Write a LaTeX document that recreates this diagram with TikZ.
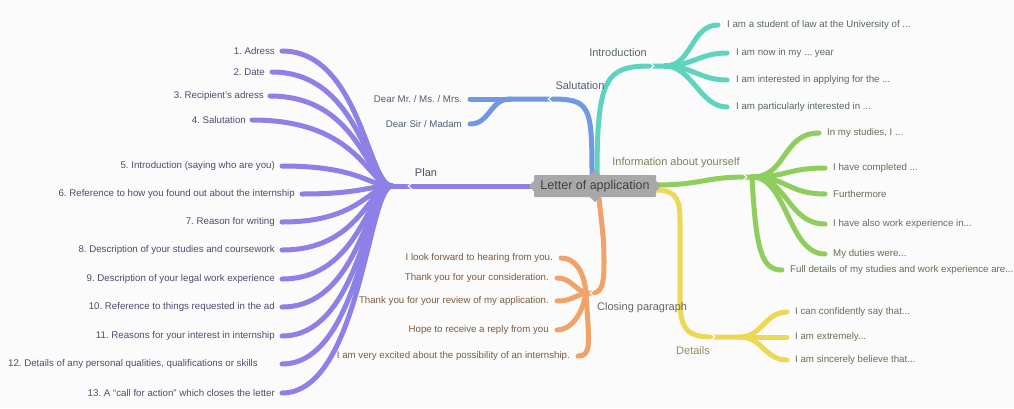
\documentclass[tikz,border=0pt]{standalone}
\usepackage{fontspec}
\setmainfont{Liberation Sans}
\usetikzlibrary{backgrounds}
\frenchspacing

\definecolor{bgc}{RGB}{251,251,251}
\definecolor{boxc}{RGB}{168,168,168}
\definecolor{planc}{RGB}{141,128,230}
\definecolor{salc}{RGB}{112,152,228}
\definecolor{intc}{RGB}{94,212,190}
\definecolor{infc}{RGB}{143,206,92}
\definecolor{detc}{RGB}{236,216,84}
\definecolor{cloc}{RGB}{240,162,104}
\definecolor{plantxt}{RGB}{78,76,112}
\definecolor{saltxt}{RGB}{82,92,116}
\definecolor{inttxt}{RGB}{88,104,100}
\definecolor{inftxt}{RGB}{98,112,86}
\definecolor{dettxt}{RGB}{112,108,82}
\definecolor{clotxt}{RGB}{124,92,62}

\tikzset{
  branch/.style={line width=5pt, line cap=round},
  leaf/.style={inner sep=0pt, font=\fontsize{9.7}{11}\selectfont},
  topic/.style={inner sep=0pt, font=\fontsize{11}{13}\selectfont},
  chev/.style={draw=white, line width=1pt, line cap=round, line join=round},
}

\begin{document}
\begin{tikzpicture}[x=1pt, y=-1pt]
	\useasboundingbox (0,0) rectangle (1014,408);
	% centre
	\node[fill=boxc, text=black!75, inner sep=0pt, minimum width=122pt, minimum height=22pt, rounded corners=1pt,
		font=\fontsize{12.5}{15}\selectfont] (lett) at (595,186) {Letter of application};
	\fill[boxc] ([yshift=5]lett.west) -- ++(-5,5) -- ++(5,5) -- cycle;
	\fill[boxc] ([yshift=5]lett.east) -- ++(5,5) -- ++(-5,5) -- cycle;
	\fill[boxc] ([xshift=-5]lett.north) -- ++(5,-5) -- ++(5,5) -- cycle;
	\fill[boxc] ([xshift=-5]lett.south) -- ++(5,5) -- ++(5,-5) -- cycle;

	% topics
	\coordinate (planpt) at (410,186); \coordinate (planhub) at (392,186);
	\coordinate (salpt) at (550,99); \coordinate (salhub) at (510,99);
	\coordinate (intpt) at (652,66); \coordinate (inthub) at (665,66);
	\coordinate (infpt) at (745,177); \coordinate (infhub) at (752,177);
	\coordinate (detpt) at (713,337); \coordinate (dethub) at (740,337);
	\coordinate (clopt) at (592,293); \coordinate (clohub) at (586,293);
	\node[topic, text=plantxt] (plan) at (426,173) {Plan};
	\node[topic, text=saltxt] (sal) at (580,86) {Salutation};
	\node[topic, text=inttxt] (int) at (618,53) {Introduction};
	\node[topic, text={rgb,255:red,116;green,134;blue,88}] (inf) at (676,163) {Information about yourself};
	\node[topic, text={rgb,255:red,146;green,138;blue,98}] (det) at (693,351) {Details};
	\node[topic, text={rgb,255:red,108;green,100;blue,94}, anchor=west] (clo) at (597,308) {Closing paragraph};

	\begin{scope}[on background layer]
		\fill[bgc] (0,0) rectangle (1014,408);
		\draw[branch, planc] (lett.west) -- (planhub);
		\draw[branch, salc] ([xshift=-3]lett.north) .. controls +(0,-70) and +(40,0) .. (salpt) -- (salhub);
		\draw[branch, intc] ([xshift=2]lett.north) .. controls +(0,-100) and +(-45,0) .. (intpt) -- (inthub);
		\draw[branch, infc] ([yshift=1]lett.east) .. controls +(45,0) and +(-40,0) .. (infpt) -- (infhub);
		\draw[branch, detc] ([yshift=-4]lett.east) .. controls +(22,0) and +(0,-20) .. (680,222) -- (680,300)
			.. controls +(0,30) and +(-25,0) .. (detpt) -- (dethub);
		\draw[branch, cloc] ([xshift=4]lett.south) .. controls +(2,25) and +(0,-30) .. (604,262)
			.. controls +(0,22) and +(10,0) .. (clopt) -- (clohub);
	\end{scope}

	% plan
	\foreach \x/\g/\y/\t [count=\i] in {282/7/51/{1. Adress}, 272/7/72/{2. Date}, 270/6/96/{3. Recipient's adress},
		252/6/120/{4. Salutation}, 282/7/166/{5. Introduction (saying who are you)},
		302/7/194/{6. Reference to how you found out about the internship}, 282/7/222/{7. Reason for writing},
		282/7/250/{8. Description of your studies and coursework}, 282/7/279/{9. Description of your legal work experience},
		282/7/307/{10. Reference to things requested in the ad}, 282/7/336/{11. Reasons for your interest in internship},
		282/24/364/{12. Details of any personal qualities, qualifications or skills},
		282/7/393/{13. A ``call for action'' which closes the letter}} {
		\node[leaf, text=plantxt, anchor=east] (p\i) at (\x-\g,\y) {\t};
		\draw[branch, planc] (planhub) .. controls (368,186) and (360,\y) .. ([xshift=\g]p\i.east);
	}

	% salutation
	\foreach \y/\t [count=\i] in {99/{Dear Mr. / Ms. / Mrs.}, 124/{Dear Sir / Madam}} {
		\node[leaf, text=saltxt, anchor=east] (s\i) at (462,\y) {\t};
		\draw[branch, salc] (salhub) .. controls +(-20,0) and +(20,0) .. ([xshift=8]s\i.east);
	}

	% introduction
	\foreach \x/\y/\t [count=\i] in {727/25/{I am a student of law at the University of ...},
		736/53/{I am now in my ... year}, 736/80/{I am interested in applying for the ...},
		736/107/{I am particularly interested in ...}} {
		\node[leaf, text=inttxt, anchor=west] (i\i) at (\x,\y) {\t};
		\draw[branch, intc] (inthub) .. controls +(27,0) and +(-27,0) .. ([xshift=-9]i\i.west);
	}

	% information about yourself
	\foreach \x/\y/\t [count=\i] in {827/133/{In my studies, I ...}, 833/168/{I have completed ...},
		833/194/{Furthermore}, 833/224/{I have also work experience in...}, 833/254/{My duties were...}} {
		\node[leaf, text=inftxt, anchor=west] (f\i) at (\x,\y) {\t};
		\draw[branch, infc] (infhub) .. controls +(35,0) and +(-37,0) .. ([xshift=-8]f\i.west);
	}
	\node[leaf, text=inftxt, anchor=west] (f6) at (790,270) {Full details of my studies and work experience are...};
	\draw[branch, infc] (infhub) .. controls +(4,75) and +(-20,0) .. ([xshift=-8]f6.west);

	% details
	\foreach \y/\t [count=\i] in {312/{I can confidently say that...}, 337/{I am extremely...},
		360/{I am sincerely believe that...}} {
		\node[leaf, text=dettxt, anchor=west] (d\i) at (795,\y) {\t};
		\draw[branch, detc] (dethub) .. controls +(22,0) and +(-22,0) .. ([xshift=-8]d\i.west);
	}

	% closing paragraph
	\foreach \x/\y/\cx/\cy/\t [count=\i] in {561/258/-2/-22/{I look forward to hearing from you.},
		557/278/-12/-4/{Thank you for your consideration.},
		557/301/-12/3/{Thank you for your review of my application.},
		557/330/-4/22/{Hope to receive a reply from you},
		578/356/3/50/{I am very excited about the possibility of an internship.}} {
		\node[leaf, text=clotxt, anchor=east] (c\i) at (\x-8,\y) {\t};
		\draw[branch, cloc] (clohub) .. controls +(\cx,\cy) and +(14,0) .. ([xshift=8]c\i.east);
	}

	% chevrons
	\foreach \c/\d in {planpt/-1, salpt/-1, intpt/1, infpt/1, detpt/1, clopt/-1}
		\draw[chev] ([shift={(-2*\d,-3)}]\c) -- ([shift={(2*\d,0)}]\c) -- ([shift={(-2*\d,3)}]\c);
\end{tikzpicture}
\end{document}
